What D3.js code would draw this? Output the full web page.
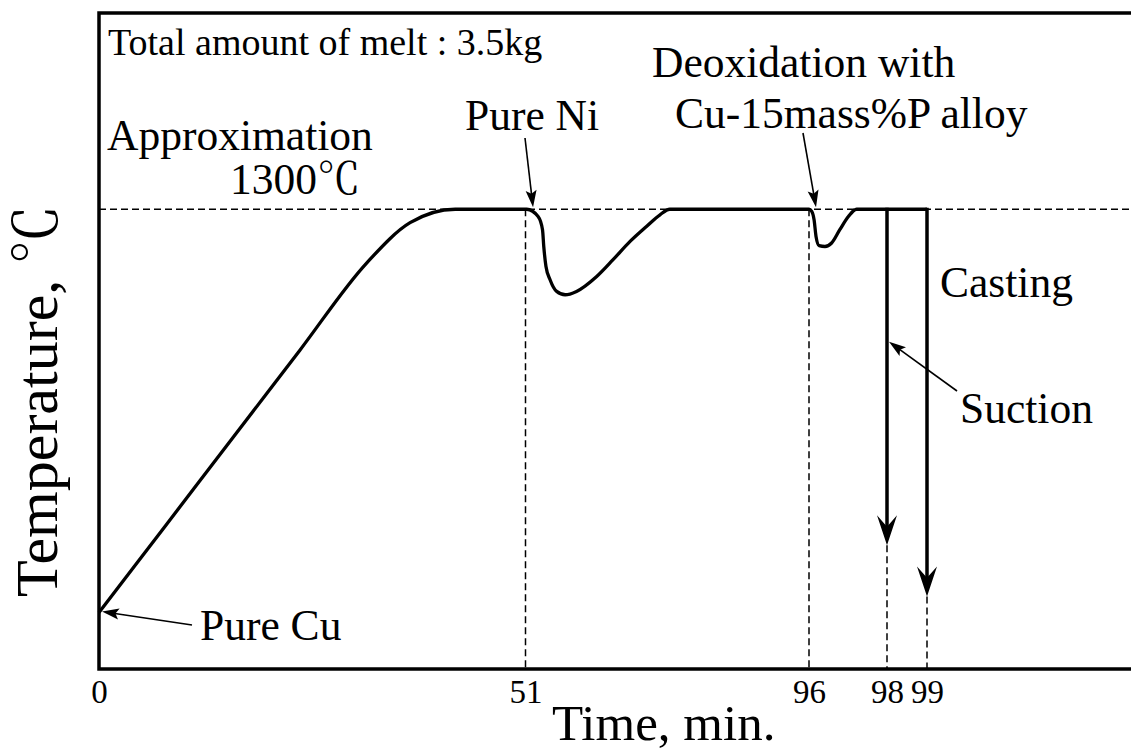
<!DOCTYPE html>
<html>
<head>
<meta charset="utf-8">
<script src="https://cdn.jsdelivr.net/npm/d3@7"></script>
<style>
	body { margin: 0; background: #fff; }
	text {
		font-family: "Liberation Serif", "Times New Roman", "Noto Serif CJK JP", "Noto Sans CJK JP", serif;
		fill: #000;
	}
</style>
</head>
<body>
<div id="chart"></div>
<script>

// event times (min) marked on the time axis

var tickTimes = [0, 51, 96, 98, 99];

// holding temperature of the melt

var holdTemp = 1300;

// temperature profile (schematic, deg C)

var profileTime = [0, 8, 16, 24, 32, 37.2, 42.6, 51.2, 53.0, 53.7, 53.9, 54.25, 54.9, 55.95, 57.3, 59.1, 62.3,
	64.9, 67.6, 70.2, 72.35, 73.9, 96.0, 96.07, 96.13, 96.18, 96.26, 96.41, 96.58, 96.79, 97.01, 97.22, 99];
var profileTemp = [1000, 1065, 1130, 1195, 1260, 1290, 1300, 1300, 1294.6, 1284.8, 1272.3, 1257.5, 1247.6, 1238.9, 1236.4, 1238.9, 1250,
	1262.5, 1276.1, 1287.2, 1295.9, 1300, 1300, 1298.4, 1292.2, 1279.8, 1272.9, 1272.3, 1274.9, 1284.8, 1294.6, 1300, 1300];

// suction and casting drops

var dropTime = [98, 99];
var dropTemp = [1050, 1012];


// set size of entire chart area

var svgWidth = 1131;
var svgHeight = 751;

var svg = d3.select("#chart")
	.append("svg")
	.attr("width", svgWidth)
	.attr("height", svgHeight);

// the time axis of the original is schematic, so use a piecewise scale

var xScale = d3.scaleLinear()
	.domain([0, 51, 96, 98, 99, 110])
	.range([99, 525.5, 809, 887, 927, 1140]);

var yScale = d3.scaleLinear()
	.domain([958, 1446])
	.range([669, 13]);

var x0 = xScale(0);
var xEnd = xScale(110);
var yBottom = yScale(958);
var yTop = yScale(1446);
var yHold = yScale(holdTemp);

// helper for filled arrow heads with a small notch

function arrowHead(x1, y1, x2, y2, len, half, notch) {
	var dx = x2 - x1;
	var dy = y2 - y1;
	var d = Math.sqrt(dx * dx + dy * dy);
	var ux = dx / d, uy = dy / d;
	var nx = -uy, ny = ux;
	var bx = x2 - ux * len, by = y2 - uy * len;
	var mx = x2 - ux * len * notch, my = y2 - uy * len * notch;
	return "M" + x2 + "," + y2 +
		"L" + (bx + nx * half) + "," + (by + ny * half) +
		"L" + mx + "," + my +
		"L" + (bx - nx * half) + "," + (by - ny * half) + "Z";
}

function annotationArrow(x1, y1, x2, y2) {
	var dx = x2 - x1, dy = y2 - y1;
	var d = Math.sqrt(dx * dx + dy * dy);
	svg.append("line")
		.attr("x1", x1).attr("y1", y1)
		.attr("x2", x2 - dx / d * 13).attr("y2", y2 - dy / d * 13)
		.attr("stroke", "#000")
		.attr("stroke-width", 1.6);
	svg.append("path")
		.attr("d", arrowHead(x1, y1, x2, y2, 17, 5.5, 0.8))
		.attr("fill", "#000");
}

// dashed holding temperature line

svg.append("line")
	.attr("x1", x0).attr("x2", xEnd)
	.attr("y1", yHold).attr("y2", yHold)
	.attr("stroke", "#000")
	.attr("stroke-width", 1.5)
	.attr("stroke-dasharray", "7,4");

// dashed guides down to the time axis

svg.selectAll(".guide")
	.data([51, 96])
	.enter()
	.append("line")
	.attr("class", "guide")
	.attr("x1", d => xScale(d)).attr("x2", d => xScale(d))
	.attr("y1", yHold).attr("y2", yBottom)
	.attr("stroke", "#000")
	.attr("stroke-width", 1.5)
	.attr("stroke-dasharray", "7,4");

svg.selectAll(".dropGuide")
	.data(dropTime)
	.enter()
	.append("line")
	.attr("class", "dropGuide")
	.attr("x1", d => xScale(d)).attr("x2", d => xScale(d))
	.attr("y1", (d, i) => yScale(dropTemp[i]))
	.attr("y2", yBottom)
	.attr("stroke", "#000")
	.attr("stroke-width", 1.5)
	.attr("stroke-dasharray", "7,4");

// temperature profile

var profile = profileTime.map((t, i) => [t, profileTemp[i]]);

var line = d3.line()
	.x(d => xScale(d[0]))
	.y(d => yScale(d[1]))
	.curve(d3.curveMonotoneX);

svg.append("path")
	.datum(profile)
	.attr("d", line)
	.attr("fill", "none")
	.attr("stroke", "#000")
	.attr("stroke-width", 3.3)
	.attr("stroke-linejoin", "round");

// suction and casting arrows

dropTime.forEach(function(t, i) {
	var xx = xScale(t);
	var yy = yScale(dropTemp[i]);
	svg.append("line")
		.attr("x1", xx).attr("x2", xx)
		.attr("y1", yHold - 1.5).attr("y2", yy - 18)
		.attr("stroke", "#000")
		.attr("stroke-width", 3.5);
	svg.append("path")
		.attr("d", arrowHead(xx, yHold, xx, yy, 30, 10, 0.62))
		.attr("fill", "#000");
});

// frame (the right side runs off the picture)

svg.append("path")
	.attr("d", "M" + xEnd + "," + yTop + "H" + x0 + "V" + yBottom + "H" + xEnd)
	.attr("fill", "none")
	.attr("stroke", "#000")
	.attr("stroke-width", 3.5);

// time axis labels

var bottomAxis = d3.axisBottom(xScale)
	.tickValues(tickTimes)
	.tickSize(0)
	.tickPadding(11)
	.tickFormat(d3.format("d"));

var xAxis = svg.append("g")
	.attr("transform", `translate(0, ${yBottom})`)
	.call(bottomAxis);

xAxis.select(".domain").remove();
xAxis.selectAll("text")
	.attr("font-family", null)
	.style("font-size", "33px");

// axis titles

svg.append("text")
	.attr("x", 552)
	.attr("y", 740)
	.style("font-size", "51px")
	.text("Time, min.");

svg.append("text")
	.attr("transform", "translate(57, 597) rotate(-90)")
	.style("font-size", "60px")
	.text("Temperature, ℃");

// annotations

svg.append("text")
	.attr("x", 108).attr("y", 55)
	.style("font-size", "38px")
	.text("Total amount of melt : 3.5kg");

svg.append("text")
	.attr("x", 107).attr("y", 150)
	.style("font-size", "43.5px")
	.text("Approximation");

svg.append("text")
	.attr("x", 230).attr("y", 194)
	.style("font-size", "43.5px")
	.text("1300℃");

svg.append("text")
	.attr("x", 465).attr("y", 130)
	.style("font-size", "43.5px")
	.text("Pure Ni");

svg.append("text")
	.attr("x", 652).attr("y", 77)
	.style("font-size", "43.5px")
	.text("Deoxidation with");

svg.append("text")
	.attr("x", 675).attr("y", 128)
	.style("font-size", "43.5px")
	.text("Cu-15mass%P alloy");

svg.append("text")
	.attr("x", 940).attr("y", 297)
	.style("font-size", "43.5px")
	.text("Casting");

svg.append("text")
	.attr("x", 960).attr("y", 423)
	.style("font-size", "43.5px")
	.text("Suction");

svg.append("text")
	.attr("x", 200).attr("y", 640)
	.style("font-size", "43.5px")
	.text("Pure Cu");

// annotation arrows pointing at the events

annotationArrow(192, 625, xScale(0) + 3, yScale(1000) - 1);
annotationArrow(525, 138, xScale(52.2), yHold - 2);
annotationArrow(803, 133, xScale(96.18), yHold - 2);
annotationArrow(957, 391, xScale(98) + 2, yScale(1201.5));

</script>
</body>
</html>
